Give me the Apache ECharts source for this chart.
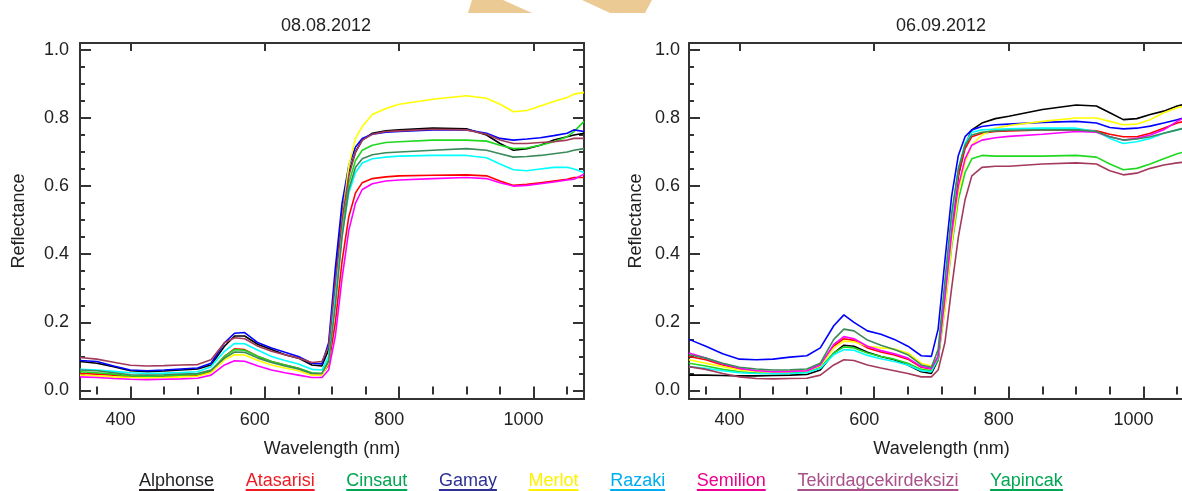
<!DOCTYPE html>
<html>
<head>
<meta charset="utf-8">
<title>Reflectance spectra</title>
<script src="https://cdn.jsdelivr.net/npm/echarts@6/dist/echarts.min.js"></script>
<style>
  html, body { margin: 0; padding: 0; background: #fff; }
  #chart { width: 1182px; height: 491px; }
</style>
</head>
<body>
<div id="chart"></div>
<script>
const wavelengths = [325, 350, 375, 400, 425, 450, 475, 500, 520, 540, 555, 570, 590,
  610, 630, 650, 670, 685, 695, 705, 715, 725, 735, 745, 760, 780, 800, 850,
  900, 930, 950, 970, 990, 1010, 1030, 1050, 1060, 1075]

const varieties = ['Alphonse', 'Atasarisi', 'Cinsaut', 'Gamay', 'Merlot', 'Razaki',
  'Semilion', 'Tekirdagcekirdeksizi', 'Yapincak']
const lineColors = ['#000000', '#ff0000', '#1fd81f', '#0000ff', '#ffff00', '#00ffff',
  '#ff00ff', '#a33a5a', '#3a8a5a']
const legendColors = ['#231f20', '#ed1c24', '#00a651', '#2e3192', '#fff200', '#00aeef',
  '#ec008c', '#a8518a', '#00a651']
const dates = ['08.08.2012', '06.09.2012']

const xMajorTicks = [400, 600, 800, 1000]
const xMinorTicks = [350, 400, 450, 500, 550, 600, 650, 700, 750, 800, 850, 900, 950, 1000, 1050]
const yMajorTicks = [0, 0.2, 0.4, 0.6, 0.8, 1.0]
const yMinorTicks = [0, 0.05, 0.1, 0.15, 0.2, 0.25, 0.3, 0.35, 0.4, 0.45, 0.5, 0.55,
  0.6, 0.65, 0.7, 0.75, 0.8, 0.85, 0.9, 0.95, 1.0]

// 08.08.2012
const augAlphonse = [0.085, 0.080, 0.070, 0.058, 0.055, 0.057, 0.060, 0.063,
  0.075, 0.130, 0.160, 0.160, 0.135, 0.120, 0.105, 0.095, 0.075, 0.072,
  0.120, 0.330, 0.520, 0.640, 0.700, 0.735, 0.755, 0.762, 0.765, 0.770,
  0.768, 0.750, 0.725, 0.705, 0.710, 0.720, 0.735, 0.745, 0.750, 0.755]
const augAtasarisi = [0.050, 0.048, 0.045, 0.040, 0.040, 0.041, 0.043, 0.045,
  0.056, 0.100, 0.122, 0.120, 0.100, 0.085, 0.075, 0.065, 0.050, 0.048,
  0.075, 0.200, 0.380, 0.510, 0.580, 0.610, 0.622, 0.627, 0.630, 0.632,
  0.633, 0.630, 0.615, 0.602, 0.605, 0.610, 0.615, 0.620, 0.625, 0.625]
const augCinsaut = [0.055, 0.052, 0.048, 0.043, 0.042, 0.043, 0.045, 0.047,
  0.058, 0.100, 0.120, 0.118, 0.100, 0.085, 0.075, 0.065, 0.052, 0.050,
  0.090, 0.270, 0.470, 0.610, 0.675, 0.705, 0.720, 0.728, 0.730, 0.735,
  0.735, 0.732, 0.720, 0.710, 0.712, 0.720, 0.730, 0.745, 0.760, 0.790]
const augGamay = [0.088, 0.085, 0.072, 0.060, 0.058, 0.060, 0.063, 0.066,
  0.080, 0.140, 0.168, 0.170, 0.140, 0.125, 0.112, 0.100, 0.080, 0.078,
  0.140, 0.360, 0.550, 0.660, 0.715, 0.740, 0.752, 0.758, 0.760, 0.765,
  0.765, 0.755, 0.740, 0.735, 0.738, 0.742, 0.748, 0.755, 0.765, 0.760]
const augMerlot = [0.045, 0.043, 0.040, 0.038, 0.037, 0.038, 0.040, 0.042,
  0.052, 0.090, 0.105, 0.104, 0.088, 0.075, 0.066, 0.058, 0.045, 0.045,
  0.080, 0.270, 0.500, 0.660, 0.740, 0.775, 0.810, 0.828, 0.840, 0.855,
  0.865, 0.858, 0.840, 0.818, 0.822, 0.835, 0.848, 0.860, 0.870, 0.875]
const augRazaki = [0.062, 0.060, 0.056, 0.052, 0.050, 0.051, 0.053, 0.055,
  0.070, 0.115, 0.138, 0.137, 0.118, 0.100, 0.088, 0.078, 0.062, 0.060,
  0.100, 0.280, 0.460, 0.580, 0.640, 0.668, 0.680, 0.685, 0.688, 0.690,
  0.690, 0.683, 0.665, 0.648, 0.645, 0.650, 0.655, 0.655, 0.650, 0.640]
const augSemilion = [0.040, 0.038, 0.035, 0.033, 0.032, 0.033, 0.034, 0.036,
  0.045, 0.075, 0.087, 0.086, 0.072, 0.060, 0.052, 0.045, 0.038, 0.038,
  0.060, 0.160, 0.330, 0.470, 0.550, 0.590, 0.607, 0.615, 0.618, 0.622,
  0.625, 0.622, 0.610, 0.600, 0.602, 0.607, 0.612, 0.618, 0.620, 0.635]
const augTekirdag = [0.097, 0.092, 0.083, 0.074, 0.072, 0.073, 0.075, 0.076,
  0.090, 0.140, 0.155, 0.152, 0.130, 0.115, 0.105, 0.095, 0.082, 0.085,
  0.130, 0.320, 0.500, 0.630, 0.700, 0.735, 0.752, 0.760, 0.762, 0.767,
  0.765, 0.752, 0.735, 0.725, 0.725, 0.728, 0.730, 0.735, 0.740, 0.740]
const augYapincak = [0.060, 0.058, 0.052, 0.046, 0.045, 0.046, 0.048, 0.050,
  0.060, 0.095, 0.113, 0.112, 0.095, 0.082, 0.072, 0.063, 0.050, 0.050,
  0.085, 0.250, 0.450, 0.590, 0.655, 0.680, 0.692, 0.698, 0.700, 0.705,
  0.710, 0.705, 0.695, 0.685, 0.687, 0.690, 0.695, 0.700, 0.705, 0.710]

// 06.09.2012
const sepAlphonse = [0.045, 0.045, 0.044, 0.043, 0.043, 0.044, 0.045, 0.047,
  0.060, 0.110, 0.133, 0.130, 0.112, 0.100, 0.090, 0.075, 0.055, 0.050,
  0.090, 0.270, 0.480, 0.630, 0.720, 0.765, 0.785, 0.798, 0.805, 0.825,
  0.838, 0.835, 0.815, 0.795, 0.798, 0.810, 0.820, 0.835, 0.840, 0.850]
const sepAtasarisi = [0.100, 0.090, 0.075, 0.063, 0.057, 0.055, 0.056, 0.058,
  0.075, 0.130, 0.152, 0.147, 0.125, 0.113, 0.104, 0.092, 0.068, 0.063,
  0.100, 0.280, 0.480, 0.630, 0.710, 0.745, 0.755, 0.760, 0.762, 0.765,
  0.765, 0.762, 0.752, 0.745, 0.745, 0.755, 0.770, 0.785, 0.790, 0.800]
const sepCinsaut = [0.080, 0.072, 0.062, 0.055, 0.052, 0.050, 0.051, 0.053,
  0.068, 0.110, 0.128, 0.125, 0.110, 0.100, 0.092, 0.080, 0.062, 0.058,
  0.090, 0.240, 0.420, 0.560, 0.640, 0.680, 0.690, 0.688, 0.688, 0.688,
  0.690, 0.685, 0.665, 0.648, 0.652, 0.665, 0.680, 0.695, 0.700, 0.705]
const sepGamay = [0.150, 0.130, 0.108, 0.092, 0.090, 0.092, 0.098, 0.102,
  0.125, 0.190, 0.222, 0.200, 0.175, 0.165, 0.150, 0.130, 0.102, 0.100,
  0.180, 0.380, 0.570, 0.690, 0.745, 0.765, 0.775, 0.780, 0.782, 0.787,
  0.790, 0.785, 0.772, 0.768, 0.770, 0.776, 0.785, 0.795, 0.800, 0.810]
const sepMerlot = [0.090, 0.080, 0.070, 0.060, 0.056, 0.055, 0.056, 0.058,
  0.072, 0.125, 0.145, 0.143, 0.130, 0.125, 0.122, 0.110, 0.080, 0.072,
  0.100, 0.240, 0.430, 0.580, 0.670, 0.720, 0.750, 0.770, 0.778, 0.790,
  0.800, 0.800, 0.790, 0.780, 0.782, 0.795, 0.815, 0.830, 0.835, 0.840]
const sepRazaki = [0.070, 0.065, 0.058, 0.052, 0.050, 0.049, 0.050, 0.052,
  0.065, 0.105, 0.120, 0.118, 0.103, 0.093, 0.085, 0.075, 0.058, 0.055,
  0.100, 0.300, 0.500, 0.650, 0.725, 0.758, 0.765, 0.767, 0.768, 0.770,
  0.770, 0.760, 0.740, 0.725, 0.730, 0.740, 0.755, 0.765, 0.770, 0.775]
const sepSemilion = [0.110, 0.095, 0.078, 0.065, 0.058, 0.055, 0.056, 0.058,
  0.075, 0.135, 0.158, 0.152, 0.130, 0.117, 0.108, 0.095, 0.070, 0.065,
  0.100, 0.270, 0.460, 0.600, 0.680, 0.720, 0.735, 0.742, 0.746, 0.752,
  0.760, 0.758, 0.745, 0.735, 0.740, 0.750, 0.765, 0.790, 0.800, 0.810]
const sepTekirdag = [0.070, 0.062, 0.050, 0.040, 0.035, 0.034, 0.035, 0.036,
  0.045, 0.075, 0.090, 0.088, 0.075, 0.066, 0.058, 0.050, 0.040, 0.040,
  0.060, 0.140, 0.300, 0.450, 0.560, 0.630, 0.655, 0.658, 0.658, 0.665,
  0.668, 0.665, 0.645, 0.633, 0.638, 0.652, 0.662, 0.668, 0.670, 0.675]
const sepYapincak = [0.105, 0.095, 0.080, 0.068, 0.063, 0.060, 0.061, 0.063,
  0.080, 0.150, 0.180, 0.175, 0.148, 0.133, 0.120, 0.105, 0.075, 0.068,
  0.120, 0.320, 0.520, 0.650, 0.720, 0.750, 0.758, 0.762, 0.764, 0.765,
  0.765, 0.760, 0.745, 0.735, 0.738, 0.745, 0.755, 0.765, 0.770, 0.775]

const panels = [
  [augAlphonse, augAtasarisi, augCinsaut, augGamay, augMerlot, augRazaki, augSemilion, augTekirdag, augYapincak],
  [sepAlphonse, sepAtasarisi, sepCinsaut, sepGamay, sepMerlot, sepRazaki, sepSemilion, sepTekirdag, sepYapincak]
]

const font = 'Liberation Sans'
const frameColor = '#333'
const textColor = '#222'
const lineFrame = { color: frameColor, width: 2 }

// two plot boxes; the second runs past the right edge like the source
const grids = [
  { left: 80, top: 43, width: 504, height: 356 },
  { left: 689, top: 43, width: 505, height: 356 }
]
const titleX = [321, 936]
const yNameGap = [52, 44]
const yLabelMargin = [11, 9]

function xAxes (g) {
  const base = { type: 'value', gridIndex: g, min: 325, max: 1075, splitLine: { show: false } }
  return [
    {
      ...base,
      position: 'bottom',
      axisLine: { show: true, onZero: false, lineStyle: lineFrame },
      axisTick: { show: true, inside: true, length: 8, customValues: xMajorTicks, lineStyle: lineFrame },
      axisLabel: {
        show: true, customValues: xMajorTicks, margin: 12, padding: [0, 20, 0, 0],
        formatter: v => String(v),
        fontSize: 18, color: textColor, fontFamily: font
      },
      name: 'Wavelength (nm)',
      nameLocation: 'middle',
      nameGap: 41,
      nameTextStyle: { fontSize: 18, color: textColor, fontFamily: font }
    },
    {
      ...base,
      position: 'bottom',
      axisLine: { show: false },
      axisTick: { show: true, inside: true, length: 4, customValues: xMinorTicks, lineStyle: lineFrame },
      axisLabel: { show: false }
    },
    {
      ...base,
      position: 'top',
      axisLine: { show: true, onZero: false, lineStyle: lineFrame },
      axisTick: { show: true, inside: true, length: 8, customValues: xMajorTicks, lineStyle: lineFrame },
      axisLabel: { show: false }
    },
    {
      ...base,
      position: 'top',
      axisLine: { show: false },
      axisTick: { show: true, inside: true, length: 4, customValues: xMinorTicks, lineStyle: lineFrame },
      axisLabel: { show: false }
    }
  ]
}

function yAxes (g) {
  const base = { type: 'value', gridIndex: g, min: -0.025, max: 1.02, splitLine: { show: false } }
  return [
    {
      ...base,
      position: 'left',
      axisLine: { show: true, onZero: false, lineStyle: lineFrame },
      axisTick: { show: true, inside: true, length: 11, customValues: yMajorTicks, lineStyle: lineFrame },
      axisLabel: {
        show: true, customValues: yMajorTicks, margin: yLabelMargin[g],
        formatter: v => v.toFixed(1), fontSize: 18, color: textColor, fontFamily: font
      },
      name: 'Reflectance',
      nameLocation: 'middle',
      nameGap: yNameGap[g],
      nameTextStyle: { fontSize: 18, color: textColor, fontFamily: font }
    },
    {
      ...base,
      position: 'left',
      axisLine: { show: false },
      axisTick: { show: true, inside: true, length: 5, customValues: yMinorTicks, lineStyle: lineFrame },
      axisLabel: { show: false }
    },
    {
      ...base,
      position: 'right',
      axisLine: { show: true, onZero: false, lineStyle: lineFrame },
      axisTick: { show: true, inside: true, length: 11, customValues: yMajorTicks, lineStyle: lineFrame },
      axisLabel: { show: false }
    },
    {
      ...base,
      position: 'right',
      axisLine: { show: false },
      axisTick: { show: true, inside: true, length: 5, customValues: yMinorTicks, lineStyle: lineFrame },
      axisLabel: { show: false }
    }
  ]
}

const series = []
panels.forEach((rows, p) => {
  rows.forEach((vals, i) => {
    series.push({
      name: varieties[i],
      type: 'line',
      xAxisIndex: p * 4,
      yAxisIndex: p * 4,
      showSymbol: false,
      symbol: 'none',
      lineStyle: { width: 1.6, color: lineColors[i] },
      itemStyle: { color: lineColors[i] },
      data: wavelengths.map((w, k) => [w, vals[k]])
    })
  })
})

// underline under each legend name, sized to the text
const ctx = document.createElement('canvas').getContext('2d')
ctx.font = '18px "' + font + '"'
const legendRich = { n: { fontSize: 18, fontFamily: font, lineHeight: 16 } }
varieties.forEach((name, i) => {
  legendRich['u' + i] = {
    width: Math.round(ctx.measureText(name).width),
    height: 2,
    lineHeight: 2,
    fontSize: 2,
    backgroundColor: legendColors[i]
  }
})

const chart = echarts.init(document.getElementById('chart'))
chart.setOption({
  animation: false,
  backgroundColor: '#fff',
  title: dates.map((d, i) => ({
    text: d,
    left: titleX[i],
    top: 12,
    textAlign: 'center',
    textStyle: { fontSize: 18, fontWeight: 'normal', color: textColor, fontFamily: font }
  })),
  grid: grids.map(g => ({ ...g, containLabel: false, outerBoundsMode: 'none' })),
  xAxis: [...xAxes(0), ...xAxes(1)],
  yAxis: [...yAxes(0), ...yAxes(1)],
  legend: {
    left: 128,
    top: 467,
    itemWidth: 0,
    itemHeight: 0,
    itemGap: 25.6,
    selectedMode: false,
    data: varieties.map((name, i) => ({ name, textStyle: { color: legendColors[i] } })),
    formatter: name => '{n|' + name + '}\n{u' + varieties.indexOf(name) + '| }',
    textStyle: { fontSize: 18, fontFamily: font, rich: legendRich }
  },
  graphic: [
    { type: 'polygon', shape: { points: [[468, 13], [472, 0], [503, 0], [532, 13]] }, style: { fill: '#ebcb93' }, silent: true },
    { type: 'polygon', shape: { points: [[582, 0], [652, 0], [645, 13], [610, 13]] }, style: { fill: '#ebcb93' }, silent: true }
  ],
  series
})
</script>
</body>
</html>
